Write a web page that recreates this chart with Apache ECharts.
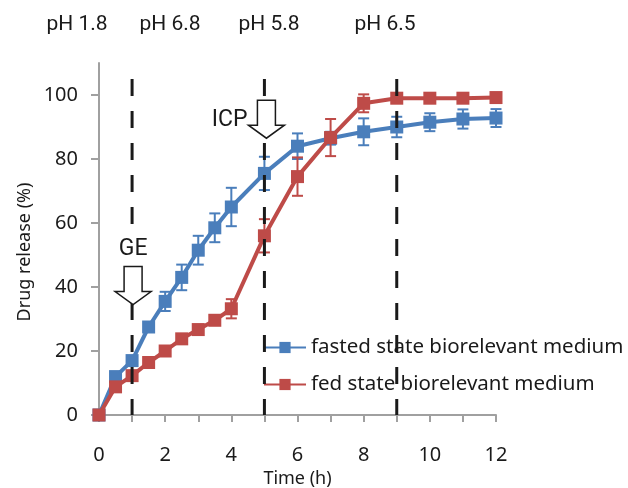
<!DOCTYPE html>
<html><head><meta charset="utf-8">
<script src="https://cdn.jsdelivr.net/npm/echarts@6/dist/echarts.min.js"></script>
<style>html,body{margin:0;padding:0;background:#fff}#c{width:628px;height:488px}</style>
</head><body><div id="c"></div>
<script>
const times = [0, 0.5, 1, 1.5, 2, 2.5, 3, 3.5, 4, 5, 6, 7, 8, 9, 10, 11, 12];
const fasted = [0, 12, 17, 27.5, 35.5, 43, 51.5, 58.5, 65, 75.5, 84, 86.5, 88.5, 90, 91.5, 92.5, 92.8];
const fastedErr = [0, 1, 1.5, 1, 3, 4, 4.5, 4.5, 6, 5.2, 4, 2, 4.2, 3.2, 2.8, 3, 2.8];
const fed = [0, 8.8, 12.3, 16.4, 20, 23.8, 26.7, 29.6, 33.2, 56, 74.5, 86.7, 97.4, 99, 99, 99, 99.2];
const fedErr = [0, 0.5, 1, 0.5, 0.5, 0.5, 0.5, 0.5, 3, 5.2, 6, 5.8, 2.8, 1, 0.5, 0.5, 0.5];
const seriesNames = ['fasted state biorelevant medium', 'fed state biorelevant medium'];
const phBoundaries = [1, 5, 9];
const phLabels = ['pH 1.8', 'pH 6.8', 'pH 5.8', 'pH 6.5'];
const xTickLabels = [0, 2, 4, 6, 8, 10, 12];
const yTickLabels = [0, 20, 40, 60, 80, 100];

const BLUE = '#4A7EBB', RED = '#BE4B48';
const FONT = 'Noto Sans';

function errSeries(vals, errs, color, z) {
  return {
    type: 'custom', silent: true, z: z,
    data: times.map((t, i) => [t, vals[i] - errs[i], vals[i] + errs[i]]),
    encode: { x: 0, y: [1, 2] },
    renderItem: function (params, api) {
      const x = api.value(0);
      const lo = api.coord([x, api.value(1)]);
      const hi = api.coord([x, api.value(2)]);
      const w = 5.5;
      const st = { stroke: color, lineWidth: 2 };
      return { type: 'group', children: [
        { type: 'line', shape: { x1: lo[0], y1: lo[1], x2: hi[0], y2: hi[1] }, style: st },
        { type: 'line', shape: { x1: lo[0] - w, y1: lo[1], x2: lo[0] + w, y2: lo[1] }, style: st },
        { type: 'line', shape: { x1: hi[0] - w, y1: hi[1], x2: hi[0] + w, y2: hi[1] }, style: st }
      ]};
    }
  };
}

const chart = echarts.init(document.getElementById('c'), null, { renderer: 'canvas' });
const dashSeries = phBoundaries.map(b => ({
  type: 'line', silent: true, z: 8, symbol: 'none',
  data: [[b, 105], [b, 0]],
  lineStyle: { color: '#1a1a1a', width: 3, type: [17, 15] }
}));

chart.setOption({
  animation: false,
  backgroundColor: '#fff',
  grid: { left: 99, right: 132, top: 63, bottom: 73, containLabel: false, outerBoundsMode: 'none' },
  xAxis: {
    type: 'value', min: 0, max: 12, interval: 1,
    name: 'Time (h)', nameLocation: 'middle', nameGap: 55,
    nameTextStyle: { fontFamily: FONT, fontSize: 18, color: '#1a1a1a' },
    axisLine: { lineStyle: { color: '#a0a0a0', width: 2 } },
    axisTick: { show: true, length: 7, lineStyle: { color: '#a0a0a0', width: 2 } },
    axisLabel: { customValues: xTickLabels, margin: 30, fontFamily: FONT, fontSize: 20, color: '#1a1a1a' },
    splitLine: { show: false }
  },
  yAxis: {
    type: 'value', min: 0, max: 110,
    axisLine: { show: true, lineStyle: { color: '#a0a0a0', width: 2 } },
    axisTick: { show: true, length: 8, customValues: yTickLabels, lineStyle: { color: '#a0a0a0', width: 2 } },
    axisLabel: { customValues: yTickLabels, margin: 21, fontFamily: FONT, fontSize: 20, color: '#1a1a1a' },
    splitLine: { show: false }
  },
  legend: {
    data: seriesNames, orient: 'vertical', left: 263, top: 337, padding: 0,
    itemWidth: 42, itemHeight: 14, itemGap: 16,
    textStyle: { fontFamily: FONT, fontSize: 20.5, color: '#1a1a1a' }
  },
  series: [
    errSeries(fasted, fastedErr, BLUE, 2),
    { name: seriesNames[0], type: 'line', z: 3, data: times.map((t, i) => [t, fasted[i]]),
      symbol: 'rect', symbolSize: 13, color: BLUE,
      lineStyle: { color: BLUE, width: 4 }, itemStyle: { color: BLUE } },
    errSeries(fed, fedErr, RED, 4),
    { name: seriesNames[1], type: 'line', z: 5, data: times.map((t, i) => [t, fed[i]]),
      symbol: 'rect', symbolSize: 13, color: RED,
      lineStyle: { color: RED, width: 4 }, itemStyle: { color: RED } }
  ].concat(dashSeries)
});

function arrow(cx, tipY) {
  const sh = 9, hh = 18, total = 38, head = 13;
  const top = tipY - total, hs = tipY - head;
  return [[cx - sh, top], [cx + sh, top], [cx + sh, hs], [cx + hh, hs], [cx, tipY], [cx - hh, hs], [cx - sh, hs]];
}
const ge = chart.convertToPixel({ gridIndex: 0 }, [phBoundaries[0], 34.5]);
const icp = chart.convertToPixel({ gridIndex: 0 }, [phBoundaries[1], 86.5]);
const phX = [77, 170, 269, 385];
function txt(text, size, align, family, bg) {
  const s = { text: text, fontSize: size, fontFamily: family || 'Roboto', fill: '#1a1a1a', align: align, verticalAlign: 'middle' };
  if (bg) { s.backgroundColor = '#fff'; s.padding = [4, 4, 2, 4]; }
  return s;
}
chart.setOption({
  graphic: [
    { type: 'polygon', z: 20, shape: { points: arrow(ge[0] + 1, ge[1]) }, style: { fill: '#fff', stroke: '#1a1a1a', lineWidth: 1.5 } },
    { type: 'polygon', z: 20, shape: { points: arrow(icp[0] + 2, icp[1]) }, style: { fill: '#fff', stroke: '#1a1a1a', lineWidth: 1.5 } },
    { type: 'text', z: 20, x: ge[0] + 1, y: ge[1] - 55, style: txt('GE', 23, 'center', null, true) },
    { type: 'text', z: 20, x: icp[0] - 17, y: icp[1] - 18, style: txt('ICP', 23, 'right') },
    { type: 'text', z: 20, x: 25, y: 252, rotation: Math.PI / 2, style: txt('Drug release (%)', 18, 'center', FONT) }
  ].concat(phLabels.map((l, i) => ({
    type: 'text', z: 20, x: phX[i], y: 25, style: txt(l, 21, 'center')
  })))
});
</script>
</body></html>
